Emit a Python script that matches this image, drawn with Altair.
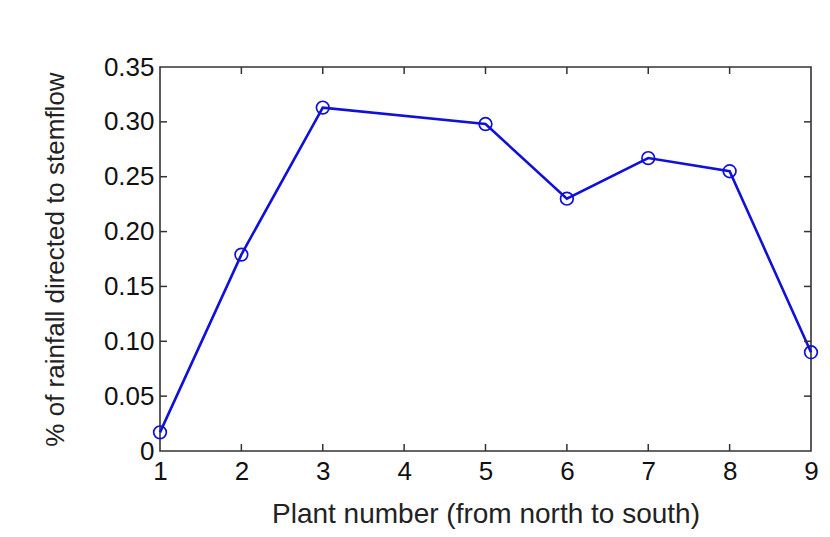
import altair as alt
import pandas as pd

# Data
plants = [1, 2, 3, 5, 6, 7, 8, 9]
stemflow_share = [0.017, 0.179, 0.313, 0.298, 0.230, 0.267, 0.255, 0.090]

x_tick_values = [1, 2, 3, 4, 5, 6, 7, 8, 9]
y_tick_values = [0, 0.05, 0.10, 0.15, 0.20, 0.25, 0.30, 0.35]
x_inner_ticks = [2, 3, 4, 5, 6, 7, 8]
y_inner_ticks = [0.05, 0.10, 0.15, 0.20, 0.25, 0.30]

df = pd.DataFrame({"plant": plants, "share": stemflow_share})
df_xt = pd.DataFrame({"plant": x_inner_ticks})
df_yt = pd.DataFrame({"share": y_inner_ticks})

W, H = 651, 384
FONT = "Liberation Sans"
BLUE = "#1010d8"
AXC = "#333333"

xscale = alt.Scale(domain=[1, 9], nice=False, zero=False)
yscale = alt.Scale(domain=[0, 0.35], nice=False)

x_axis = alt.Axis(
    values=x_tick_values, format="d", ticks=False, domain=False, grid=False,
    labelFont=FONT, labelFontSize=26, labelColor="#111", labelPadding=7, labelFlush=False,
    title="Plant number (from north to south)", titleFont=FONT, titleFontSize=28,
    titleFontWeight="normal", titleColor="#222", titleY=63, titleBaseline="middle",
)
y_axis = alt.Axis(
    values=y_tick_values, ticks=False, domain=False, grid=False,
    labelExpr="datum.value == 0 ? '0' : format(datum.value, '.2f')",
    labelFont=FONT, labelFontSize=26, labelColor="#111", labelPadding=6, labelFlush=False,
    title="% of rainfall directed to stemflow", titleFont=FONT, titleFontSize=26,
    titleFontWeight="normal", titleColor="#222", titleX=-105, titleY=H / 2,
    titleBaseline="middle", titleAlign="center", titleAngle=270,
)

base = alt.Chart(df)
line = base.mark_line(color=BLUE, strokeWidth=2.6).encode(
    x=alt.X("plant:Q", scale=xscale, axis=x_axis),
    y=alt.Y("share:Q", scale=yscale, axis=y_axis),
)
pts = base.mark_point(shape="circle", filled=False, color=BLUE, size=160, strokeWidth=1.7, opacity=1).encode(
    x=alt.X("plant:Q", scale=xscale, axis=x_axis),
    y=alt.Y("share:Q", scale=yscale, axis=y_axis),
)

tick_len = 7
xt_bottom = alt.Chart(df_xt).mark_rule(color=AXC, strokeWidth=1.5).encode(
    x=alt.X("plant:Q", scale=xscale, axis=x_axis), y=alt.value(H), y2=alt.value(H - tick_len))
xt_top = alt.Chart(df_xt).mark_rule(color=AXC, strokeWidth=1.5).encode(
    x=alt.X("plant:Q", scale=xscale, axis=x_axis), y=alt.value(0), y2=alt.value(tick_len))
yt_left = alt.Chart(df_yt).mark_rule(color=AXC, strokeWidth=1.5).encode(
    y=alt.Y("share:Q", scale=yscale, axis=y_axis), x=alt.value(0), x2=alt.value(tick_len))
yt_right = alt.Chart(df_yt).mark_rule(color=AXC, strokeWidth=1.5).encode(
    y=alt.Y("share:Q", scale=yscale, axis=y_axis), x=alt.value(W), x2=alt.value(W - tick_len))

chart = alt.layer(line, pts, xt_bottom, xt_top, yt_left, yt_right).properties(
    width=W, height=H,
    background="white",
    autosize=alt.AutoSizeParams(type="none"),
    padding={"left": 152, "top": 59, "right": 10, "bottom": 78},
).configure_view(
    stroke=AXC, strokeWidth=1.6
)

chart.save("out.html", embed_options={"renderer": "svg", "actions": False})
